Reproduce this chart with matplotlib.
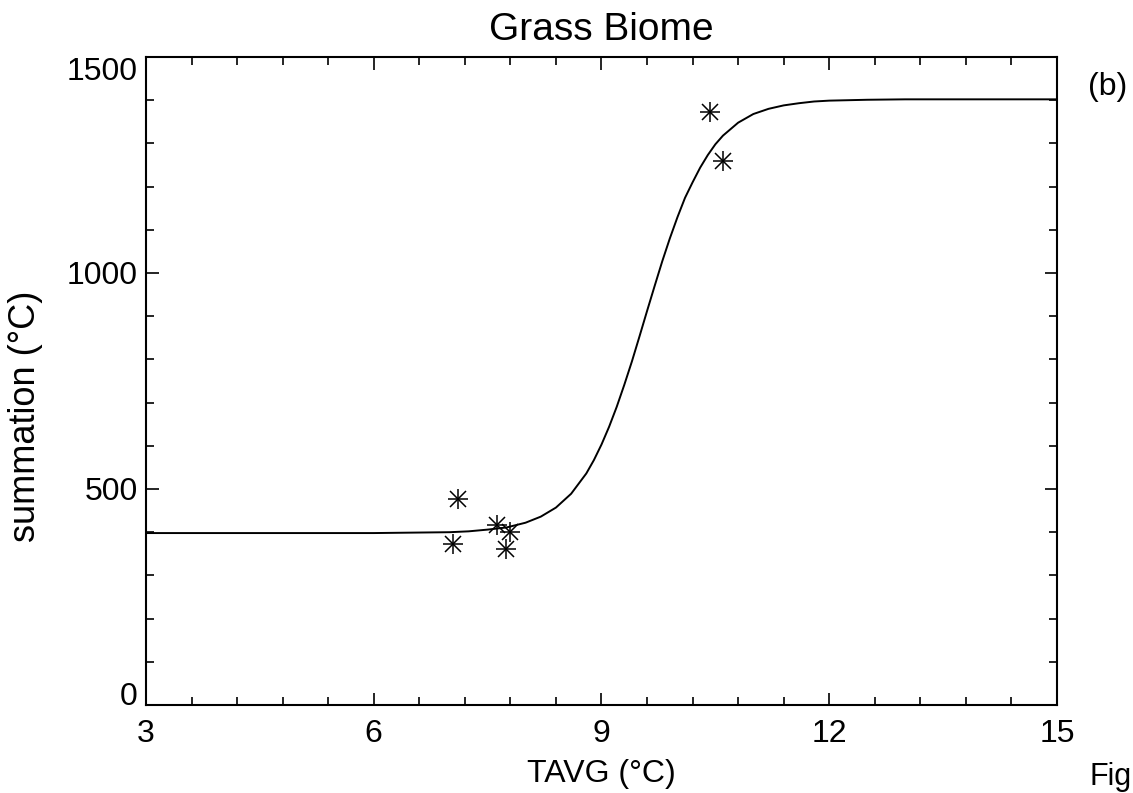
import matplotlib
matplotlib.use("Agg")
import matplotlib.pyplot as plt
from matplotlib.ticker import MultipleLocator

plt.rcParams['font.family'] = ['Liberation Sans', 'DejaVu Sans']

# observed points
obs_x = [7.11, 7.04, 7.62, 7.80, 7.74, 10.43, 10.60]
obs_y = [476, 373, 417, 401, 360, 1372, 1259]

# fitted curve
curve_x = [3.0, 5.0, 6.0, 6.5, 7.0, 7.25, 7.5, 7.75, 8.0, 8.2, 8.4, 8.6, 8.8,
           8.9, 9.0, 9.1, 9.2, 9.3, 9.4, 9.5, 9.6, 9.7, 9.8, 9.9, 10.0,
           10.1, 10.2, 10.3, 10.4, 10.5, 10.6, 10.8, 11.0, 11.2, 11.4, 11.6,
           11.8, 12.0, 12.5, 13.0, 14.0, 15.0]
curve_y = [398, 398, 398, 399, 400, 402, 406, 411, 422, 436, 457, 489, 536,
           567, 603, 644, 690, 741, 795, 853, 912, 970, 1027, 1080, 1129,
           1174, 1210, 1244, 1273, 1298, 1318, 1348, 1368, 1380, 1388, 1393,
           1397, 1399, 1401, 1402, 1402, 1402]

fig = plt.figure(figsize=(11.33, 7.93), dpi=100)
ax = fig.add_axes([146/1133, 1-705/793, (1057-146)/1133, (705-57)/793])

ax.plot(curve_x, curve_y, color='black', lw=1.4)
ax.plot(obs_x, obs_y, linestyle='none', marker='+', ms=14, mew=1.1, color='black')
ax.plot(obs_x, obs_y, linestyle='none', marker='x', ms=12, mew=1.1, color='black')

ax.set_xlim(3, 15)
ax.set_ylim(0, 1500)
ax.xaxis.set_major_locator(MultipleLocator(3))
ax.xaxis.set_minor_locator(MultipleLocator(0.6))
ax.yaxis.set_major_locator(MultipleLocator(500))
ax.yaxis.set_minor_locator(MultipleLocator(100))
ax.tick_params(which='both', direction='in', top=True, right=True, width=1.2,
               labelsize=23, color='black')
ax.tick_params(which='major', length=9)
ax.tick_params(which='minor', length=5.5)
ax.tick_params(axis='x', which='major', pad=10)
ax.tick_params(axis='y', which='major', pad=6)
for s in ax.spines.values():
    s.set_linewidth(1.5)

fig.canvas.draw()
for lab in ax.get_yticklabels():
    if lab.get_text() == '1500':
        lab.set_va('top')
    elif lab.get_text() == '0':
        lab.set_va('baseline')

ax.set_title('Grass Biome', fontsize=28, pad=12)
ax.set_xlabel('TAVG (°C)', fontsize=23, labelpad=7)
ax.set_ylabel('summation (°C)', fontsize=26)
ax.yaxis.set_label_coords(-0.113, 0.446)

fig.text(1088/1133, 1-87/793, '(b)', fontsize=23, ha='left', va='center')
fig.text(1090/1133, 1-792/793, 'Fig', fontsize=22, ha='left', va='bottom')

fig.savefig('out.png', dpi=100)
